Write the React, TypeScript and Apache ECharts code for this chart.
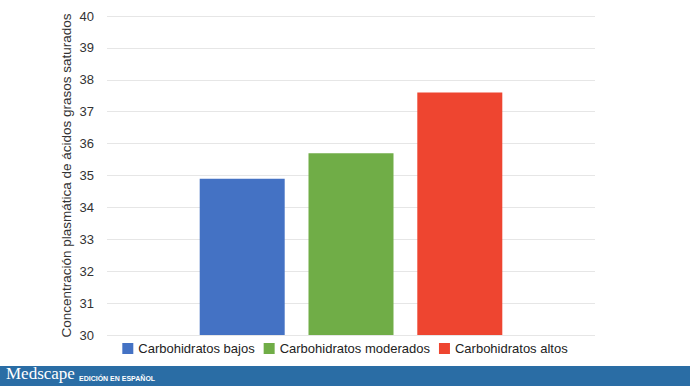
import React, { useEffect, useRef } from "react";
import * as echarts from "echarts";

const categories = ["Concentración"];
const seriesNames = ["Carbohidratos bajos", "Carbohidratos moderados", "Carbohidratos altos"];
const seriesValues = [34.9, 35.7, 37.6];
const seriesColors = ["#4472c4", "#70ad47", "#ee4530"];
const yTitle = "Concentración plasmática de ácidos grasos saturados";

export default function App() {
  const ref = useRef<HTMLDivElement>(null);
  useEffect(() => {
    document.body.style.margin = "0";
    const chart = echarts.init(ref.current!, null, { renderer: "svg" });
    chart.setOption({
      animation: false,
      backgroundColor: "#ffffff",
      grid: { left: 107, right: 95, top: 16, bottom: 51 },
      legend: {
        bottom: 26,
        left: "center",
        itemWidth: 11,
        itemHeight: 11,
        itemGap: 9,
        icon: "rect",
        textStyle: { fontFamily: "Liberation Sans, Arial", fontSize: 13, color: "#222" },
        data: seriesNames,
      },
      xAxis: {
        type: "category",
        data: categories,
        axisLine: { show: false },
        axisTick: { show: false },
        axisLabel: { show: false },
      },
      yAxis: {
        type: "value",
        min: 30,
        max: 40,
        interval: 1,
        name: yTitle,
        nameLocation: "middle",
        nameGap: 34,
        nameMoveOverlap: false,
        nameTextStyle: { fontFamily: "Liberation Sans, Arial", fontSize: 13.5, color: "#333" },
        axisLine: { show: false },
        axisTick: { show: false },
        axisLabel: { fontFamily: "Liberation Sans, Arial", fontSize: 13, color: "#333", margin: 13 },
        splitLine: { lineStyle: { color: "#e6e6e6", width: 1 } },
      },
      series: seriesNames.map((name, i) => ({
        name,
        type: "bar",
        data: [seriesValues[i]],
        barWidth: 85,
        barGap: "28%",
        itemStyle: { color: seriesColors[i] },
      })),
      graphic: [
        { type: "rect", left: 0, top: 366, shape: { width: 690, height: 20 }, style: { fill: "#2a6da5" } },
        {
          type: "text",
          left: 6,
          top: 365,
          style: { text: "Medscape", fill: "#ffffff", font: "17px 'Liberation Serif', 'DejaVu Serif', serif" },
        },
        {
          type: "text",
          left: 79,
          top: 375,
          style: { text: "EDICIÓN EN ESPAÑOL", fill: "#ffffff", font: "bold 7px 'Liberation Sans', Arial, sans-serif" },
        },
      ],
    });
    return () => chart.dispose();
  }, []);
  return <div ref={ref} style={{ width: 690, height: 386, position: "absolute", left: 0, top: 0 }} />;
}
